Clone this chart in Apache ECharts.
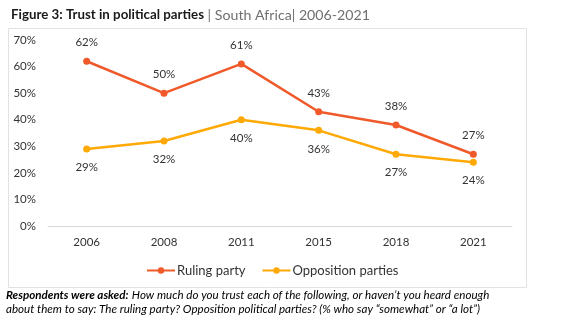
<!DOCTYPE html>
<html>
<head>
<meta charset="utf-8">
<script src="https://cdn.jsdelivr.net/npm/echarts@6/dist/echarts.min.js"></script>
<style>
  html, body { margin: 0; padding: 0; background: #fff; }
  #chart { width: 570px; height: 321px; }
</style>
</head>
<body>
<div id="chart"></div>
<script>
// Survey years and trust shares (%)
const years = ['2006', '2008', '2011', '2015', '2018', '2021'];
const rulingParty = [62, 50, 61, 43, 38, 27];
const oppositionParties = [29, 32, 40, 36, 27, 24];
const yTicks = [0, 10, 20, 30, 40, 50, 60, 70];

const FONT = 'Lato, "Noto Sans", sans-serif';
const RED = '#F05A2A';
const AMBER = '#FFA907';

const chart = echarts.init(document.getElementById('chart'));
chart.setOption({
  animation: false,
  textStyle: { fontFamily: FONT },
  title: {
    left: 6, top: 3,
    text: '{b|Figure 3: Trust in political parties}{g| | South Africa| 2006-2021}',
    textStyle: {
      rich: {
        b: { fontFamily: FONT, fontWeight: 'bold', fontSize: 13.3, color: '#1a1a1a' },
        g: { fontFamily: FONT, fontWeight: 'normal', fontSize: 14.2, color: '#707070' }
      }
    }
  },
  graphic: [
    {
      type: 'rect', left: 6, top: 26, silent: true,
      shape: { width: 518, height: 259 },
      style: { fill: 'none', stroke: '#e2e2e2', lineWidth: 1 }
    },
    {
      type: 'text', left: 6, top: 288,
      style: {
        text: '{b|Respondents were asked:} {i|How much do you trust each of the following, or haven\u2019t you heard enough}\n{i|about them to say: The ruling party? Opposition political parties? (% who say \u201csomewhat\u201d or \u201ca lot\u201d)}',
        lineHeight: 14,
        rich: {
          b: { fontFamily: FONT, fontWeight: 'bold', fontStyle: 'italic', fontSize: 11.6, color: '#111', lineHeight: 14 },
          i: { fontFamily: FONT, fontStyle: 'italic', fontSize: 11.6, color: '#222', lineHeight: 14 }
        }
      }
    }
  ],
  legend: {
    top: 259,
    left: 141,
    itemWidth: 28, itemHeight: 8, itemGap: 16,
    textStyle: { fontFamily: FONT, fontSize: 13, color: '#333', padding: [0, 0, 0, -3] },
    data: ['Ruling party', 'Opposition parties']
  },
  grid: { left: 48, right: 58, top: 40, bottom: 95 },
  xAxis: {
    type: 'category',
    data: years,
    boundaryGap: true,
    axisLine: { lineStyle: { color: '#d9d9d9', width: 1 } },
    axisTick: { show: false },
    axisLabel: { color: '#333', fontSize: 11.5, margin: 10, fontFamily: FONT }
  },
  yAxis: {
    type: 'value',
    min: yTicks[0], max: yTicks[yTicks.length - 1], interval: 10,
    axisLine: { show: false },
    axisTick: { show: false },
    splitLine: { show: false },
    axisLabel: { formatter: '{value}%', color: '#333', fontSize: 11.5, margin: 12, fontFamily: FONT }
  },
  series: [
    {
      name: 'Ruling party',
      type: 'line',
      data: rulingParty,
      symbol: 'circle', symbolSize: 7,
      lineStyle: { color: RED, width: 2.5 },
      itemStyle: { color: RED },
      label: { show: true, position: 'top', distance: 9, formatter: '{c}%', color: '#333', fontSize: 11.5, fontFamily: FONT }
    },
    {
      name: 'Opposition parties',
      type: 'line',
      data: oppositionParties,
      symbol: 'circle', symbolSize: 7,
      lineStyle: { color: AMBER, width: 2.5 },
      itemStyle: { color: AMBER },
      label: { show: true, position: 'bottom', distance: 9, formatter: '{c}%', color: '#333', fontSize: 11.5, fontFamily: FONT }
    }
  ]
});
</script>
</body>
</html>
